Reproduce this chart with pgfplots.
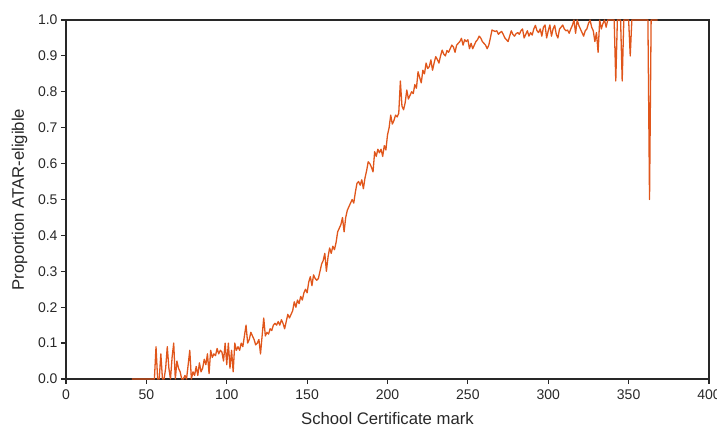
\documentclass[border=0pt]{standalone}
\usepackage{pgfplots}
\pgfplotsset{compat=1.18}
\usepackage{pgfplotstable}
\usepackage{fontspec}
\setmainfont{Liberation Sans}
\definecolor{lineor}{RGB}{224,86,27}
\definecolor{axgray}{RGB}{40,40,40}

\pgfplotstableread{
x y
41 0
42 0
43 0
44 0
45 0
46 0
47 0
48 0
49 0
50 0
51 0
52 0
53 0
54 0
55 0
56 0.09
57 0
58 0
59 0.07
60 0
61 0
62 0.03
63 0.09
64 0.03
65 0
66 0.06
67 0.1
68 0
69 0.05
70 0.03
71 0.02
72 0
73 0
74 0.01
75 0
76 0.04
77 0.08
78 0
79 0.02
80 0.01
81 0.035
82 0.01
83 0.045
84 0.02
85 0.03
86 0.055
87 0.04
88 0.07
89 0.015
90 0.08
91 0.06
92 0.07
93 0.065
94 0.085
95 0.07
96 0.08
97 0.075
98 0.05
99 0.1
100 0.04
101 0.1
102 0.03
103 0.08
104 0.02
105 0.1
106 0.08
107 0.09
108 0.08
109 0.1
110 0.09
111 0.12
112 0.15
113 0.1
114 0.11
115 0.13
116 0.12
117 0.11
118 0.095
119 0.1
120 0.11
121 0.07
122 0.12
123 0.17
124 0.12
125 0.13
126 0.125
127 0.14
128 0.135
129 0.15
130 0.155
131 0.15
132 0.16
133 0.15
134 0.165
135 0.155
136 0.14
137 0.16
138 0.18
139 0.17
140 0.18
141 0.19
142 0.215
143 0.2
144 0.22
145 0.21
146 0.23
147 0.22
148 0.24
149 0.25
150 0.24
151 0.27
152 0.285
153 0.26
154 0.29
155 0.28
156 0.275
157 0.28
158 0.3
159 0.32
160 0.33
161 0.35
162 0.3
163 0.34
164 0.365
165 0.35
166 0.37
167 0.36
168 0.38
169 0.41
170 0.42
171 0.43
172 0.45
173 0.41
174 0.45
175 0.47
176 0.48
177 0.49
178 0.5
179 0.49
180 0.52
181 0.545
182 0.55
183 0.54
184 0.555
185 0.53
186 0.56
187 0.58
188 0.605
189 0.6
190 0.59
191 0.577
192 0.633
193 0.62
194 0.64
195 0.63
196 0.64
197 0.62
198 0.65
199 0.638
200 0.68
201 0.7
202 0.735
203 0.71
204 0.72
205 0.735
206 0.73
207 0.74
208 0.83
209 0.76
210 0.75
211 0.77
212 0.805
213 0.78
214 0.79
215 0.8
216 0.795
217 0.82
218 0.81
219 0.856
220 0.84
221 0.825
222 0.86
223 0.85
224 0.88
225 0.865
226 0.87
227 0.889
228 0.86
229 0.88
230 0.898
231 0.89
232 0.88
233 0.9
234 0.916
235 0.905
236 0.9
237 0.915
238 0.91
239 0.92
240 0.93
241 0.925
242 0.91
243 0.93
244 0.935
245 0.94
246 0.949
247 0.93
248 0.945
249 0.94
250 0.945
251 0.92
252 0.935
253 0.92
254 0.93
255 0.94
256 0.945
257 0.955
258 0.95
259 0.94
260 0.935
261 0.93
262 0.92
263 0.93
264 0.95
265 0.972
266 0.97
267 0.968
268 0.97
269 0.96
270 0.965
271 0.968
272 0.96
273 0.95
274 0.945
275 0.94
276 0.955
277 0.97
278 0.96
279 0.955
280 0.962
281 0.965
282 0.96
283 0.97
284 0.975
285 0.95
286 0.96
287 0.97
288 0.955
289 0.965
290 0.958
291 0.975
292 0.985
293 0.97
294 0.965
295 0.975
296 0.955
297 0.98
298 0.986
299 0.95
300 0.97
301 0.986
302 0.955
303 0.975
304 0.985
305 0.96
306 0.95
307 0.975
308 0.98
309 0.986
310 0.975
311 0.97
312 0.972
313 0.963
314 0.975
315 0.985
316 1.0
317 0.963
318 1.0
319 0.985
320 0.975
321 0.965
322 0.955
323 0.97
324 0.975
325 0.99
326 1.0
327 0.98
328 0.97
329 0.94
330 0.965
331 0.91
332 1.0
333 0.975
334 0.99
335 1.0
336 0.98
337 1.0
338 1
339 1
340 1
341 1
342 0.83
343 1
344 1
345 1
346 0.83
347 1
348 1
349 1
350 1
351 0.9
352 1
353 1
354 1
355 1
356 1
357 1
358 1
359 1
360 1
361 1
362 1
363 0.5
364 1
365 1
366 1
367 1
368 1
}\datatable

\begin{document}
\begin{tikzpicture}
\useasboundingbox (-66pt,-48pt) rectangle (651pt,379pt);
\begin{axis}[
  at={(0pt,0pt)}, anchor=south west,
  width=643pt, height=359pt, scale only axis,
  xmin=0, xmax=400, ymin=0, ymax=1,
  xtick={0,50,...,400},
  ytick={0,0.1,0.2,0.3,0.4,0.5,0.6,0.7,0.8,0.9,1.0},
  tick align=outside, tick pos=left,
  major tick length=5pt,
  axis line style={axgray, line width=1.3pt},
  every tick/.style={axgray, line width=1.2pt},
  tick label style={font=\fontsize{14}{16}\selectfont, text=axgray},
  /pgf/number format/assume math mode=true,
  y tick label style={/pgf/number format/.cd, fixed, fixed zerofill, precision=1},
  x tick label style={yshift=-2pt, /pgf/number format/.cd, fixed, precision=0},
  label style={font=\fontsize{16.7}{19}\selectfont, text=axgray},
  xlabel={School Certificate mark},
  ylabel={Proportion ATAR-eligible},
  xlabel style={at={(axis description cs:0.5,-0.11)}, anchor=center},
  ylabel style={at={(axis description cs:-0.0723,0.5)}, anchor=center},
  clip=false,
]
\addplot[lineor, line width=1.3pt, line join=round] table[x=x, y=y] {\datatable};
\end{axis}
\end{tikzpicture}
\end{document}
